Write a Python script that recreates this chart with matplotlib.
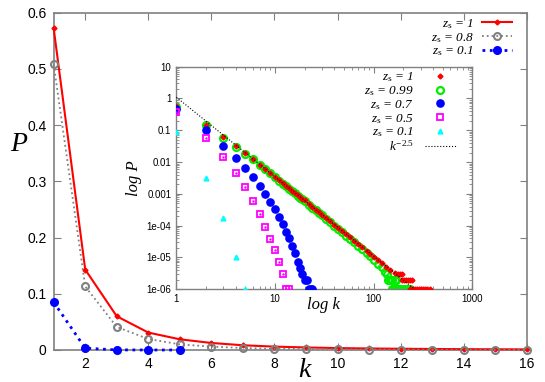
import matplotlib
matplotlib.use("Agg")
import matplotlib.pyplot as plt
from matplotlib.font_manager import FontProperties
from matplotlib.ticker import LogLocator, FixedLocator, FixedFormatter, NullFormatter

plt.rcParams['font.family'] = ['Liberation Sans', 'DejaVu Sans']
plt.rcParams['mathtext.fontset'] = 'custom'
plt.rcParams['mathtext.rm'] = 'Liberation Serif'
plt.rcParams['mathtext.it'] = 'Liberation Serif:italic'

# --- main panel data: P(k) for three z_s values ---
k_main = [1, 2, 3, 4, 5, 6, 7, 8, 9, 10, 11, 12, 13, 14, 15, 16]
p_z1 = [0.572, 0.143, 0.060, 0.031, 0.019, 0.0125, 0.0084, 0.0060, 0.0045, 0.0034,
        0.0027, 0.0022, 0.0018, 0.0015, 0.00125, 0.00107]
p_z08 = [0.508, 0.113, 0.041, 0.0196, 0.010, 0.006, 0.0035, 0.0022, 0.0015, 0.0010,
         0.0007, 0.0005, 0.0004, 0.0003, 0.0002, 0.00015]
k_z01 = [1, 2, 3, 4, 5]
p_z01 = [0.085, 0.0032, 0.00017, 0.00001, 0.000001]

# --- inset data (log-log) ---
red_k = [1, 2, 3, 4, 5, 6, 7, 8, 9, 10, 11, 12, 13, 14, 15, 16, 17, 18, 19, 20,
         22, 24, 26, 28, 30, 33, 36, 40, 44, 48, 53, 58, 64, 70, 77, 85, 93, 102,
         112, 123, 135, 148, 163, 176, 186, 196, 192, 203, 212, 222, 233, 243,
         232, 240, 250, 262, 275, 288, 302, 317, 333, 350, 370]
red_p = [0.572, 0.143, 0.060, 0.031, 0.019, 0.0125, 0.0084, 0.0060, 0.0045, 0.0034,
         0.0027, 0.0022, 0.0018, 0.0015, 0.00125, 0.00107, 0.00092, 0.00080, 0.00070, 0.00062,
         0.000485, 0.00039, 0.00032, 0.000265, 0.000223, 0.000176, 0.000141, 0.000109,
         8.6e-5, 6.9e-5, 5.4e-5, 4.3e-5, 3.4e-5, 2.7e-5, 2.1e-5, 1.65e-5, 1.32e-5, 1.05e-5,
         8.3e-6, 6.6e-6, 5.2e-6, 4.1e-6, 3.3e-6, 3e-6, 3e-6, 3e-6, 2e-6, 2e-6, 2e-6, 2e-6, 2e-6, 2e-6,
         1e-6, 1e-6, 1e-6, 1e-6, 1e-6, 1e-6, 1e-6, 1e-6, 1e-6, 1e-6, 1e-6]
green_k = [1, 2, 3, 4, 5, 6, 7, 8, 9, 10, 11, 12, 13, 14, 15, 16, 17, 18, 19, 20,
           22, 24, 26, 28, 30, 33, 36, 40, 44, 48, 53, 58, 64, 70, 77, 85, 93, 102,
           112, 123, 130, 138, 140, 147, 155, 163, 170,
           153, 160, 168, 176, 185, 194, 203, 213, 223, 232]
green_p = [0.56, 0.142, 0.059, 0.030, 0.0185, 0.0123, 0.0082, 0.0059, 0.0044, 0.0033,
           0.0026, 0.0021, 0.00175, 0.00145, 0.0012, 0.00103, 0.00089, 0.00077, 0.00067, 0.00059,
           0.00046, 0.00037, 0.000305, 0.00025, 0.00021, 0.000165, 0.000131, 0.000101,
           7.9e-5, 6.3e-5, 4.9e-5, 3.85e-5, 3.0e-5, 2.35e-5, 1.8e-5, 1.38e-5, 1.08e-5, 8.4e-6,
           6.4e-6, 4.9e-6, 3.6e-6, 3e-6, 2e-6, 2e-6, 2e-6, 2e-6, 2e-6,
           1e-6, 1e-6, 1e-6, 1e-6, 1e-6, 1e-6, 1e-6, 1e-6, 1e-6, 1e-6]
blue_k = [1, 2, 3, 4, 5, 6, 7, 8, 9, 10, 11, 12, 13, 14, 15, 16, 17, 18, 19, 20, 21, 22, 23, 24]
blue_p = [0.46, 0.10, 0.033, 0.0137, 0.0065, 0.0033, 0.0018, 0.0010, 5.7e-4, 3.3e-4,
          1.9e-4, 1.1e-4, 6.5e-5, 4.0e-5, 2.3e-5, 1.35e-5, 7.4e-6, 4.6e-6, 3e-6, 2e-6,
          2e-6, 1e-6, 1e-6, 1e-6]
mag_k = [1, 2, 3, 4, 5, 6, 7, 8, 9, 10, 11, 12, 13, 14]
mag_p = [0.37, 0.058, 0.0145, 0.0045, 0.0016, 6e-4, 2.3e-4, 9e-5, 3.8e-5, 1.7e-5,
         7.2e-6, 3.1e-6, 1e-6, 1e-6]
cyan_k = [1, 2, 3, 4, 5]
cyan_p = [0.09, 0.0032, 1.7e-4, 1.06e-5, 1e-6]
line_k = [1, 1000]
line_p = [1.1, 1.1 * 1000 ** -2.5]

ytick_vals = [10, 1, 0.1, 0.01, 0.001, 1e-4, 1e-5, 1e-6]
ytick_text = ['10', '1', '0.1', '0.01', '0.001', '1e-04', '1e-05', '1e-06']

border = '#808080'
serif_it = FontProperties(family='Liberation Serif', style='italic', size=9.5)

fig = plt.figure(figsize=(5.45, 3.82), dpi=100)
ax = fig.add_axes([0.0985, 0.0838, 0.868, 0.883])

ax.plot(k_main, p_z1, '-', color='red', lw=1.5, marker='D', ms=2.5, clip_on=False,
        label=r'$z_{\mathrm{s}}$ = 1', zorder=3)
ax.plot(k_main, p_z08, ':', color='gray', lw=1.3, marker='o', ms=5, mfc='none', mew=1.5,
        clip_on=False, label=r'$z_{\mathrm{s}}$ = 0.8', zorder=4)
ax.plot(k_z01, p_z01, ':', color='blue', lw=2, marker='o', ms=5.5, clip_on=False,
        label=r'$z_{\mathrm{s}}$ = 0.1', zorder=5)

ax.set_xlim(1, 16)
ax.set_ylim(0, 0.6)
ax.set_xticks([2, 4, 6, 8, 10, 12, 14, 16])
ax.set_yticks([0, 0.1, 0.2, 0.3, 0.4, 0.5, 0.6])
ax.set_yticklabels(['0', '0.1', '0.2', '0.3', '0.4', '0.5', '0.6'])
ax.tick_params(direction='in', top=True, right=True, length=5, color=border,
               labelsize=10, pad=5)
for s in ax.spines.values():
    s.set_color(border)
    s.set_linewidth(1.2)

ax.set_xlabel('k', fontfamily='Liberation Serif', fontstyle='italic', fontsize=20)
ax.xaxis.set_label_coords(0.531, -0.08)
ax.xaxis.label.set_va('baseline')
ax.set_ylabel('P', fontfamily='Liberation Serif', fontstyle='italic', fontsize=20, rotation=0)
ax.yaxis.set_label_coords(-0.075, 0.608)
ax.yaxis.label.set_va('center')

ax.legend(loc='upper right', bbox_to_anchor=(0.975, 0.995), frameon=False, markerfirst=False,
          prop=serif_it, labelspacing=0.0, handlelength=2.3, handletextpad=0.6,
          borderaxespad=0, borderpad=0.2)

# --- inset ---
ins = fig.add_axes([0.3235, 0.2427, 0.543, 0.5827])
ins.set_facecolor('white')
ins.plot(red_k, red_p, 'D', color='red', ms=2.5, ls='none', label=r'$z_{\mathrm{s}}$ = 1', zorder=3)
ins.plot(green_k, green_p, 'o', color='#00ee00', ms=5, mfc='none', mew=1.6, ls='none',
         label=r'$z_{\mathrm{s}}$ = 0.99', zorder=2)
ins.plot(blue_k, blue_p, 'o', color='blue', ms=5.2, ls='none', label=r'$z_{\mathrm{s}}$ = 0.7', zorder=3)
ins.plot(mag_k, mag_p, 's', color='magenta', ms=4.5, mfc='none', mew=1.3, ls='none',
         label=r'$z_{\mathrm{s}}$ = 0.5', zorder=3)
ins.plot(mag_k, mag_p, '.', color='magenta', ms=1.5, ls='none', zorder=3)
ins.plot(cyan_k, cyan_p, '^', color='cyan', ms=3.5, ls='none', label=r'$z_{\mathrm{s}}$ = 0.1',
         zorder=3)
ins.plot(line_k, line_p, ':', color='black', lw=0.8, label=r'$k^{-2.5}$', zorder=4)

ins.set_xscale('log')
ins.set_yscale('log')
ins.set_xlim(1, 1000)
ins.set_ylim(1e-6, 10)
ins.yaxis.set_major_locator(FixedLocator(ytick_vals))
ins.yaxis.set_major_formatter(FixedFormatter(ytick_text))
ins.yaxis.set_minor_locator(LogLocator(base=10, subs=range(2, 10), numticks=20))
ins.yaxis.set_minor_formatter(NullFormatter())
ins.xaxis.set_major_locator(FixedLocator([1, 10, 100, 1000]))
ins.xaxis.set_major_formatter(FixedFormatter(['1', '10', '100', '1000']))
ins.xaxis.set_minor_locator(LogLocator(base=10, subs=range(2, 10), numticks=20))
ins.xaxis.set_minor_formatter(NullFormatter())
ins.tick_params(which='both', direction='in', top=True, right=True, color=border, labelsize=7)
ins.tick_params(which='major', length=4)
ins.tick_params(which='minor', length=2)
for s in ins.spines.values():
    s.set_color(border)
    s.set_linewidth(1.0)

ins.set_xlabel('log k', fontfamily='Liberation Serif', fontstyle='italic', fontsize=12)
ins.xaxis.set_label_coords(0.496, -0.07)
ins.xaxis.label.set_va('center')
ins.set_ylabel('log P', fontfamily='Liberation Serif', fontstyle='italic', fontsize=12)
ins.yaxis.set_label_coords(-0.143, 0.5)
ins.yaxis.label.set_va('center')

ins.legend(loc='upper right', bbox_to_anchor=(0.955, 0.995), frameon=False, markerfirst=False,
           prop=serif_it, labelspacing=0.0, handlelength=2.4, handletextpad=0.8,
           borderaxespad=0, borderpad=0.2)

fig.savefig('out.png', dpi=100)
